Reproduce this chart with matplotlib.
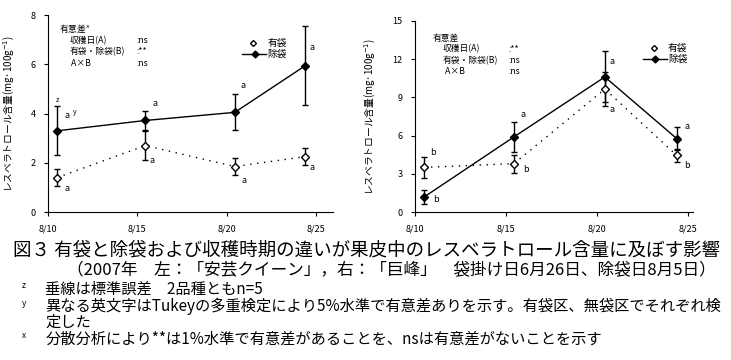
import matplotlib
matplotlib.use("Agg")
import matplotlib.pyplot as plt
from matplotlib.lines import Line2D

plt.rcParams['font.family'] = ['Noto Sans CJK JP', 'DejaVu Sans']

# harvest day (August), slightly offset from the ticks as in the original
days = [10.5, 15.45, 20.45, 24.4]
tick_days = [10, 15, 20, 25]
tick_labels = ['8/10', '8/15', '8/20', '8/25']

# left: 安芸クイーン
left_bag = [1.4, 2.7, 1.85, 2.25]          # 有袋
left_bag_se = [0.33, 0.6, 0.36, 0.35]
left_nobag = [3.3, 3.72, 4.05, 5.95]      # 除袋
left_nobag_se = [1.0, 0.37, 0.73, 1.6]

# right: 巨峰
right_bag = [3.5, 3.8, 9.65, 4.45]
right_bag_se = [0.8, 0.7, 1.3, 0.5]
right_nobag = [1.18, 5.9, 10.6, 5.77]
right_nobag_se = [0.55, 1.15, 2.0, 0.9]

left_letters = [(11.06, 3.94, 'a'), (15.99, 4.39, 'a'), (20.9, 5.16, 'a'), (24.77, 6.7, 'a'),
                (11.06, 0.97, 'a'), (15.82, 2.11, 'a'), (20.97, 1.3, 'a'), (24.77, 1.79, 'a')]
right_letters = [(11.15, 1.02, 'b'), (15.93, 7.62, 'a'), (20.82, 11.78, 'a'), (24.95, 6.68, 'a'),
                 (10.99, 4.71, 'b'), (16.1, 3.3, 'b'), (20.82, 8.01, 'a'), (24.95, 3.69, 'b')]

left_anova = ['ns', '**', 'ns']
right_anova = ['**', 'ns', 'ns']

ylabel = 'レスベラトロール含量(mg·100g$^{-1}$)'

fig = plt.figure(figsize=(7.31, 3.6), dpi=100)


def panel(rect, bag, bag_se, nobag, nobag_se, ymax, ystep, xmax, letters):
    ax = fig.add_axes(rect)
    ax.errorbar(days, bag, yerr=bag_se, color='black', ls=(0, (1, 4)), lw=1,
                marker='D', ms=4.5, mfc='white', mec='black', capsize=2.5, elinewidth=1)
    ax.errorbar(days, nobag, yerr=nobag_se, color='black', ls='-', lw=1,
                marker='D', ms=4.5, mfc='black', mec='black', capsize=2.5, elinewidth=1)
    ax.set_xlim(10, xmax)
    ax.set_ylim(0, ymax)
    ax.set_xticks(tick_days)
    ax.set_xticklabels(tick_labels)
    ax.set_yticks([ystep * i for i in range(int(ymax / ystep) + 1)])
    ax.spines['top'].set_visible(False)
    ax.spines['right'].set_visible(False)
    ax.tick_params(labelsize=6.5, length=3, width=0.8, pad=6)
    ax.set_ylabel(ylabel, fontsize=7, labelpad=10)
    for x, y, t in letters:
        ax.text(x, y, t, fontsize=6.5, ha='center', va='center')
    return ax


axl = panel([0.0657, 0.411, 0.39, 0.547], left_bag, left_bag_se, left_nobag, left_nobag_se,
            8, 2, 25.95, left_letters)
axl.text(10.5, 4.55, 'z', fontsize=5, ha='center', va='center')
axl.text(11.5, 4.06, 'y', fontsize=5, ha='center', va='center')

axr = panel([0.5677, 0.411, 0.3803, 0.531], right_bag, right_bag_se, right_nobag, right_nobag_se,
            15, 3, 25.3, right_letters)

# ANOVA box
def anova(ax, x0, y0, vals, sup):
    tr = ax.transAxes
    ax.text(x0, y0, '有意差' + sup, fontsize=6.3, transform=tr, va='center')
    names = ['収穫日(A)', '有袋・除袋(B)', ' A×B']
    for i, (n, v) in enumerate(zip(names, vals)):
        yy = y0 - 0.058 * (i + 1)
        ax.text(x0 + 0.035, yy, n, fontsize=6.3, transform=tr, va='center')
        ax.text(x0 + 0.27, yy, ':' + v, fontsize=6.3, transform=tr, va='center')

anova(axl, 0.04, 0.93, left_anova, '$^x$')
anova(axr, 0.065, 0.91, right_anova, '')

# legends
def legend(ax, x0, y0):
    tr = ax.transAxes
    ax.add_line(Line2D([x0 + 0.04], [y0], marker='D', ms=3, mfc='white', mec='black',
                       transform=tr, ls='none'))
    ax.text(x0 + 0.09, y0, '有袋', fontsize=7, transform=tr, va='center')
    ax.add_line(Line2D([x0, x0 + 0.085], [y0 - 0.058] * 2, color='black', lw=1, transform=tr))
    ax.add_line(Line2D([x0 + 0.045], [y0 - 0.058], marker='D', ms=3.5, color='black',
                       transform=tr, ls='none'))
    ax.text(x0 + 0.09, y0 - 0.058, '除袋', fontsize=7, transform=tr, va='center')

legend(axl, 0.68, 0.86)
legend(axr, 0.82, 0.86)

# caption
fig.text(0.018, 1 - 251 / 360, '図３ 有袋と除袋および収穫時期の違いが果皮中のレスベラトロール含量に及ぼす影響',
         fontsize=13.3, va='center')
fig.text(0.092, 1 - 271 / 360, '（2007年　左：「安芸クイーン」，右：「巨峰」　袋掛け日6月26日、除袋日8月5日）',
         fontsize=12.0, va='center')
notes = [(289, 'z', '垂線は標準誤差　2品種ともn=5'),
         (306, 'y', '異なる英文字はTukeyの多重検定により5%水準で有意差ありを示す。有袋区、無袋区でそれぞれ検'),
         (322, '', '定した'),
         (339, 'x', '分散分析により**は1%水準で有意差があることを、nsは有意差がないことを示す')]
for py, mark, t in notes:
    if mark:
        fig.text(0.03, 1 - (py - 3) / 360, mark, fontsize=6, va='center')
    fig.text(0.062, 1 - py / 360, t, fontsize=11.0, va='center')

fig.savefig('out.png', dpi=100)
